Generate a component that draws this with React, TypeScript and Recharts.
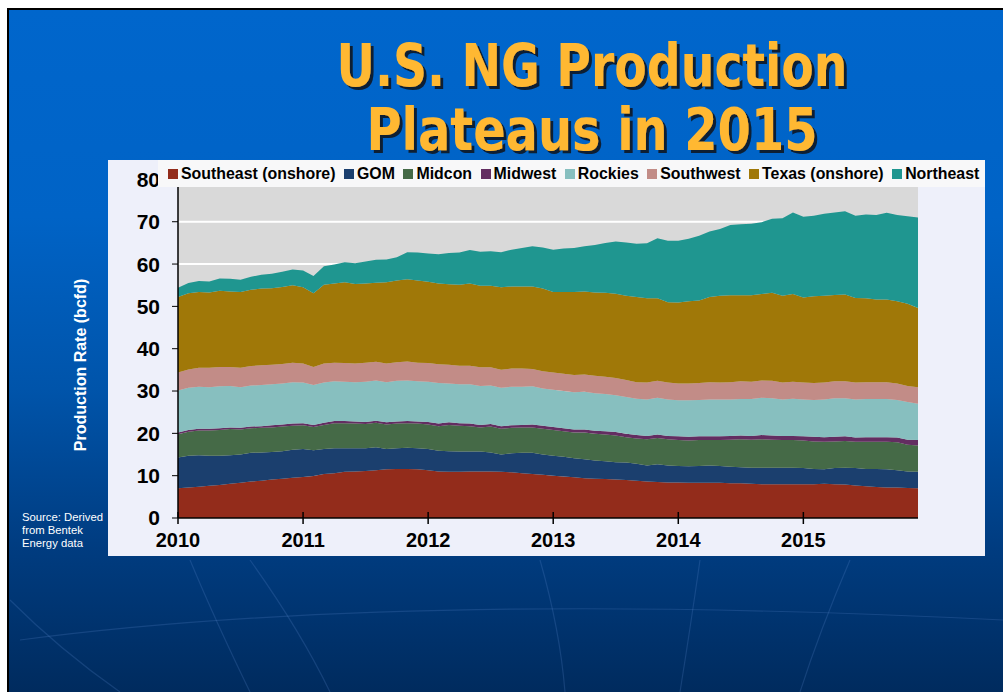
import React from "react";
import { AreaChart, Area, XAxis, YAxis, CartesianGrid } from "recharts";

// monthly, Jan 2010 .. Dec 2015 (bcfd)
const southeast = [
  7.0, 7.2, 7.4, 7.6, 7.8, 8.1, 8.3, 8.6, 8.8, 9.1, 9.3, 9.5, 9.7, 9.9,
  10.4, 10.6, 10.9, 11.0, 11.1, 11.3, 11.5, 11.6, 11.6, 11.5, 11.3, 11.0, 10.9, 10.9, 11.0,
  11.0, 11.0, 10.9, 10.8, 10.6, 10.4, 10.2, 10.0, 9.8, 9.6, 9.4, 9.3, 9.2, 9.1,
  9.0, 8.8, 8.6, 8.5, 8.4, 8.4, 8.3, 8.3, 8.3, 8.3, 8.2, 8.2, 8.1, 8.0, 8.0,
  8.0, 8.0, 8.0, 8.0, 8.1, 8.0, 7.9, 7.7, 7.5, 7.3, 7.2, 7.2, 7.1, 7.0,
];
const gom = [
  7.3, 7.5, 7.4, 7.1, 6.9, 6.7, 6.7, 6.8, 6.7, 6.5, 6.5, 6.6, 6.6, 6.1,
  5.9, 5.9, 5.6, 5.5, 5.4, 5.4, 4.8, 4.9, 5.0, 5.0, 5.0, 4.9, 4.9, 4.8, 4.7,
  4.7, 4.5, 4.1, 4.5, 4.8, 5.0, 4.8, 4.7, 4.7, 4.5, 4.5, 4.3, 4.2, 4.1,
  4.1, 4.0, 3.8, 4.2, 4.0, 3.9, 3.9, 4.0, 4.1, 4.0, 3.9, 3.8, 3.8, 3.9, 3.9,
  3.9, 3.9, 3.8, 3.6, 3.4, 3.8, 4.0, 4.1, 4.1, 4.3, 4.3, 4.1, 3.9, 3.9,
];
const midcon = [
  5.5, 5.7, 5.9, 6.0, 6.1, 6.2, 5.9, 5.8, 5.8, 5.8, 5.8, 5.7, 5.6, 5.5,
  5.7, 5.9, 5.9, 5.8, 5.7, 5.8, 5.8, 5.8, 5.8, 5.8, 5.8, 5.8, 6.2, 6.1, 6.0,
  5.7, 6.1, 6.1, 6.0, 6.0, 6.0, 6.1, 6.1, 6.0, 6.1, 6.3, 6.3, 6.3, 6.3,
  6.0, 6.0, 6.2, 6.2, 6.2, 6.1, 6.1, 6.1, 6.0, 6.1, 6.4, 6.6, 6.6, 6.7, 6.6,
  6.5, 6.5, 6.5, 6.5, 6.5, 6.3, 6.3, 6.2, 6.4, 6.4, 6.5, 6.6, 6.3, 6.2,
];
const midwest = [
  0.4, 0.4, 0.4, 0.4, 0.4, 0.4, 0.4, 0.4, 0.4, 0.5, 0.5, 0.5, 0.5, 0.5,
  0.5, 0.5, 0.5, 0.5, 0.5, 0.5, 0.5, 0.5, 0.5, 0.5, 0.6, 0.6, 0.6, 0.6, 0.6,
  0.6, 0.6, 0.6, 0.6, 0.6, 0.7, 0.7, 0.7, 0.7, 0.7, 0.7, 0.7, 0.8, 0.8,
  0.8, 0.8, 0.8, 0.8, 0.8, 0.9, 0.9, 0.9, 0.9, 0.9, 0.9, 0.9, 0.9, 1.0, 1.0,
  1.0, 1.0, 1.0, 1.1, 1.1, 1.1, 1.1, 1.0, 1.1, 1.1, 1.1, 1.1, 1.2, 1.3,
];
const rockies = [
  9.9, 10.0, 9.9, 9.8, 9.9, 9.8, 9.6, 9.7, 9.7, 9.7, 9.7, 9.8, 9.6, 9.4,
  9.5, 9.4, 9.3, 9.3, 9.5, 9.5, 9.5, 9.6, 9.6, 9.5, 9.5, 9.6, 9.2, 9.2, 9.3,
  9.2, 9.1, 9.1, 9.1, 9.0, 9.0, 8.8, 8.8, 8.8, 8.8, 8.9, 8.9, 8.8, 8.7,
  8.7, 8.6, 8.6, 8.7, 8.6, 8.5, 8.6, 8.6, 8.7, 8.7, 8.6, 8.6, 8.7, 8.8, 8.8,
  8.6, 8.8, 8.7, 8.7, 8.9, 9.1, 9.0, 9.0, 9.0, 9.0, 9.0, 8.9, 8.9, 8.6,
];
const southwest = [
  4.3, 4.3, 4.5, 4.6, 4.6, 4.5, 4.6, 4.6, 4.7, 4.6, 4.6, 4.6, 4.5, 4.3,
  4.5, 4.4, 4.4, 4.4, 4.5, 4.4, 4.4, 4.4, 4.5, 4.4, 4.4, 4.4, 4.4, 4.4, 4.4,
  4.4, 4.3, 4.2, 4.3, 4.3, 4.1, 4.1, 4.1, 4.1, 4.1, 4.1, 4.1, 4.1, 4.1,
  4.0, 3.9, 4.0, 4.0, 4.0, 4.0, 4.0, 4.0, 4.1, 4.0, 4.1, 4.2, 4.1, 4.1, 4.1,
  4.0, 4.0, 4.0, 4.0, 4.0, 4.0, 4.0, 4.0, 4.0, 4.0, 4.0, 3.9, 3.8, 3.9,
];
const texas = [
  17.8, 18.0, 17.9, 17.8, 18.0, 17.8, 17.9, 18.0, 18.1, 18.1, 18.2, 18.3, 18.0, 17.4,
  18.6, 18.7, 19.1, 18.8, 18.7, 18.7, 19.2, 19.3, 19.4, 19.4, 19.2, 19.1, 19.0, 19.1, 19.4,
  19.3, 19.3, 19.5, 19.4, 19.4, 19.5, 19.5, 19.0, 19.3, 19.6, 19.6, 19.7, 19.8, 19.9,
  19.9, 20.1, 19.9, 19.5, 19.0, 19.1, 19.4, 19.5, 20.1, 20.5, 20.5, 20.3, 20.4, 20.4, 20.8,
  20.5, 20.7, 20.1, 20.5, 20.5, 20.4, 20.5, 20.0, 19.8, 19.5, 19.5, 19.4, 19.4, 18.7,
];
const northeast = [
  2.2, 2.4, 2.6, 2.6, 2.9, 3.0, 2.9, 3.1, 3.3, 3.4, 3.6, 3.7, 4.0, 4.1,
  4.4, 4.5, 4.7, 4.9, 5.2, 5.4, 5.4, 5.5, 6.4, 6.6, 6.7, 6.9, 7.4, 7.6, 7.9,
  8.0, 8.1, 8.3, 8.7, 9.1, 9.5, 9.7, 10.0, 10.3, 10.4, 10.7, 11.2, 11.8, 12.3,
  12.6, 12.6, 13.0, 14.2, 14.5, 14.6, 14.8, 15.3, 15.5, 15.8, 16.6, 16.8, 16.9, 17.0, 17.5,
  18.3, 19.3, 19.1, 19.0, 19.4, 19.5, 19.7, 19.4, 19.8, 20.0, 20.5, 20.4, 20.7, 21.4,
];

const years = ["2010", "2011", "2012", "2013", "2014", "2015"];
const yTicks = [0, 10, 20, 30, 40, 50, 60, 70, 80];

const series = [
  { key: "southeast", name: "Southeast (onshore)", color: "#932C1B", values: southeast },
  { key: "gom", name: "GOM", color: "#1B3F6E", values: gom },
  { key: "midcon", name: "Midcon", color: "#456A47", values: midcon },
  { key: "midwest", name: "Midwest", color: "#632D61", values: midwest },
  { key: "rockies", name: "Rockies", color: "#87BFBF", values: rockies },
  { key: "southwest", name: "Southwest", color: "#C28C87", values: southwest },
  { key: "texas", name: "Texas (onshore)", color: "#A07808", values: texas },
  { key: "northeast", name: "Northeast", color: "#1F9690", values: northeast },
];

const data = southeast.map((_, i) => {
  const row: Record<string, number> = { m: i };
  series.forEach((s) => (row[s.key] = s.values[i]));
  return row;
});

const xTicks = years.map((_, k) => k * 12);
const FONT = "'Liberation Sans', Arial, sans-serif";

const XTick = (props: any) => {
  const { x, y, payload } = props;
  return (
    <g>
      <line x1={x} x2={x} y1={y - 6} y2={y + 6} stroke="#000" strokeWidth={1.5} />
      <text x={x} y={y + 29} textAnchor="middle" fontSize={20} fontWeight="bold" fontFamily={FONT} fill="#000">
        {years[Math.round(payload.value / 12)]}
      </text>
    </g>
  );
};

function Title() {
  const lines = [
    { t: "U.S. NG Production", y: 86, w: 511 },
    { t: "Plateaus in 2015", y: 150, w: 451 },
  ];
  return (
    <svg width={1003} height={170} style={{ position: "absolute", left: 0, top: 0 }}>
      <defs>
        <filter id="tshadow" x="-5%" y="-20%" width="110%" height="140%">
          <feDropShadow dx={3} dy={3} stdDeviation={0.6} floodColor="#0b1424" floodOpacity={0.9} />
        </filter>
      </defs>
      {lines.map((l) => (
        <text
          key={l.t}
          x={592}
          y={l.y}
          textLength={l.w}
          lengthAdjust="spacingAndGlyphs"
          textAnchor="middle"
          fontFamily="'DejaVu Sans', Verdana, sans-serif"
          fontWeight="bold"
          fontSize={58}
          fill="#FFB833"
          filter="url(#tshadow)"
        >
          {l.t}
        </text>
      ))}
    </svg>
  );
}

// faint globe lines in the slide background
function Globe() {
  return (
    <svg width={1003} height={692} style={{ position: "absolute", left: 0, top: 0 }}>
      <g fill="none" stroke="#5f8fd0" strokeOpacity={0.22} strokeWidth={1.2}>
        <path d="M 190 560 Q 215 620 250 692" />
        <path d="M 250 560 Q 300 630 330 692" />
        <path d="M 540 560 Q 560 630 565 692" />
        <path d="M 700 560 Q 690 630 680 692" />
        <path d="M 850 560 Q 820 630 800 692" />
        <path d="M 20 640 Q 400 590 1003 620" />
        <path d="M 10 600 Q 60 650 120 692" />
      </g>
    </svg>
  );
}

export default function App() {
  return (
    <div style={{ position: "absolute", left: 0, top: 0, width: 1003, height: 692, background: "#fff", overflow: "hidden" }}>
      <div
        style={{
          position: "absolute",
          left: 7,
          top: 8,
          width: 1000,
          height: 690,
          borderTop: "2px solid #000",
          borderLeft: "2px solid #000",
          background: "linear-gradient(to bottom, #0066CC 0%, #0063C6 30%, #0054AA 55%, #003C80 78%, #002A5C 100%)",
        }}
      />
      <Globe />
      <Title />
      <div style={{ position: "absolute", left: 108, top: 160, width: 877, height: 396, background: "#EEF0FA" }} />
      <div style={{ position: "absolute", left: 0, top: 0 }}>
        <AreaChart width={1003} height={692} data={data} margin={{ top: 179.4, right: 85, bottom: 144, left: 118 }}>
          <CartesianGrid vertical={false} fill="#D9D9D9" stroke="#FFFFFF" strokeWidth={2} />
          <XAxis
            dataKey="m"
            type="number"
            domain={[0, 71]}
            ticks={xTicks}
            interval={0}
            height={30}
            tickSize={0}
            tickMargin={0}
            tickLine={false}
            axisLine={{ stroke: "#000", strokeWidth: 1.5 }}
            tick={<XTick />}
          />
          <YAxis
            type="number"
            domain={[0, 80]}
            ticks={yTicks}
            interval={0}
            width={60}
            tickSize={6}
            tickMargin={12}
            axisLine={{ stroke: "#000", strokeWidth: 1.5 }}
            tickLine={{ stroke: "#000", strokeWidth: 1 }}
            tick={{ fill: "#000", fontSize: 21, fontWeight: "bold", fontFamily: FONT }}
            label={{
              content: () => (
                <text
                  x={82}
                  y={365}
                  transform="rotate(-90 82 365)"
                  textAnchor="middle"
                  dominantBaseline="middle"
                  fill="#fff"
                  fontSize={16}
                  fontWeight="bold"
                  fontFamily={FONT}
                >
                  Production Rate (bcfd)
                </text>
              ),
            }}
          />
          {series.map((s) => (
            <Area
              key={s.key}
              type="linear"
              dataKey={s.key}
              name={s.name}
              stackId="1"
              fill={s.color}
              fillOpacity={1}
              stroke="none"
              isAnimationActive={false}
            />
          ))}
        </AreaChart>
      </div>
      <div
        style={{
          position: "absolute",
          left: 158,
          top: 160,
          width: 827,
          height: 27,
          background: "#F8F8F9",
          display: "flex",
          alignItems: "center",
          gap: 8.5,
          paddingLeft: 10,
          boxSizing: "border-box",
          fontFamily: FONT,
          fontWeight: "bold",
          fontSize: 15.9,
          color: "#000",
          whiteSpace: "nowrap",
        }}
      >
        {series.map((s) => (
          <div key={s.key} style={{ display: "flex", alignItems: "center" }}>
            <span style={{ width: 10, height: 10, background: s.color, marginRight: 3, display: "inline-block" }} />
            <span>{s.name}</span>
          </div>
        ))}
      </div>
      <div
        style={{
          position: "absolute",
          left: 22,
          top: 511,
          color: "#fff",
          fontFamily: FONT,
          fontSize: 11.3,
          lineHeight: "13px",
        }}
      >
        Source: Derived
        <br />
        from Bentek
        <br />
        Energy data
      </div>
    </div>
  );
}
